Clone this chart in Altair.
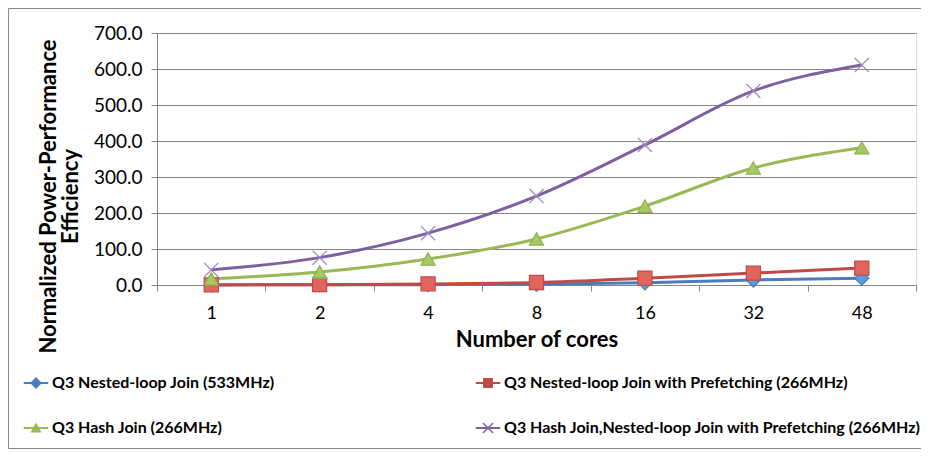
import altair as alt
import pandas as pd

cores = ["1", "2", "4", "8", "16", "32", "48"]
series_names = [
    "Q3 Nested-loop Join (533MHz)",
    "Q3 Nested-loop Join with Prefetching (266MHz)",
    "Q3 Hash Join (266MHz)",
    "Q3 Hash Join,Nested-loop Join with Prefetching (266MHz)",
]
nl_533 = [0.3, 0.5, 1.0, 2.0, 6.0, 14.0, 19.0]
nl_pref_266 = [0.5, 1.0, 3.0, 7.0, 19.0, 33.0, 47.0]
hash_266 = [17.0, 36.0, 72.0, 128.0, 219.0, 325.0, 381.0]
hash_nl_pref_266 = [42.0, 76.0, 144.0, 247.0, 389.0, 539.0, 611.0]
y_ticks = [0, 100, 200, 300, 400, 500, 600, 700]

line_colors = ["#4A7EBB", "#BE4B48", "#98B954", "#7D60A0"]
marker_fills = ["#5B9BE0", "#E2645F", "#A6CB62", "#9B87C0"]
marker_strokes = ["#4A7EBB", "#BE4B48", "#8FB050", "#9B87C0"]
plot_shapes = ["diamond", "square", "triangle-up", "M-1,-1L1,1M1,-1L-1,1"]
bar = "M-1.75,-0.14H1.75V0.14H-1.75Z "
legend_shapes = [
    bar + "M0,-0.85L0.85,0L0,0.85L-0.85,0Z",
    bar + "M-0.7,-0.7H0.7V0.7H-0.7Z",
    bar + "M0,-0.8L0.8,0.65H-0.8Z",
    bar + "M-0.8,-0.65L-0.65,-0.8L0.8,0.65L0.65,0.8Z M0.65,-0.8L0.8,-0.65L-0.65,0.8L-0.8,0.65Z",
]

rows = []
for name, vals in zip(series_names, [nl_533, nl_pref_266, hash_266, hash_nl_pref_266]):
    for c, v in zip(cores, vals):
        rows.append({"cores": c, "value": v, "series": name})
df = pd.DataFrame(rows)

FONT = "Lato"
W, H = 759, 252
PAD_L, PAD_T = 149, 25
SVG_W, SVG_H = 913, 441

x_enc = alt.X(
    "cores:O",
    sort=cores,
    scale=alt.Scale(type="band", paddingInner=0, paddingOuter=0),
    axis=alt.Axis(
        title="Number of cores",
        titleFontSize=22,
        titleFontWeight="bold",
        titleFont=FONT,
        titleColor="#000000",
        titlePadding=7,
        labelFontSize=18,
        labelFont=FONT,
        labelColor="#000000",
        labelAngle=0,
        labelPadding=13,
        tickBand="extent",
        tickSize=6,
        tickColor="#868686",
        domainColor="#868686",
        grid=False,
    ),
)
y_enc = alt.Y(
    "value:Q",
    scale=alt.Scale(domain=[0, 700], nice=False),
    axis=alt.Axis(
        title=["Normalized Power-Performance", "Efficiency"],
        titleFontSize=22,
        titleFontWeight="bold",
        titleFont=FONT,
        titleColor="#000000",
        titleLineHeight=22,
        titleAngle=270,
        titleAlign="center",
        titleBaseline="bottom",
        titleX=-97,
        titleY=163,
        labelFontSize=19,
        labelFont=FONT,
        labelColor="#000000",
        labelPadding=9,
        format=".1f",
        values=y_ticks,
        tickSize=6,
        tickColor="#868686",
        domainColor="#868686",
        gridColor="#868686",
        gridWidth=1,
    ),
)

lines = alt.Chart(df).mark_line(strokeWidth=3, interpolate="monotone").encode(
    x=x_enc,
    y=y_enc,
    color=alt.Color("series:N", scale=alt.Scale(domain=series_names, range=line_colors), legend=None),
    detail="series:N",
)

points = alt.Chart(df).mark_point(filled=True, size=200, strokeWidth=1.2, opacity=1).encode(
    x=x_enc,
    y=y_enc,
    color=alt.Color("series:N", scale=alt.Scale(domain=series_names, range=marker_fills), legend=None),
    stroke=alt.Stroke("series:N", scale=alt.Scale(domain=series_names, range=marker_strokes), legend=None),
    shape=alt.Shape("series:N", scale=alt.Scale(domain=series_names, range=plot_shapes), legend=None),
)

# legend order: row 1 = series 0, 1 ; row 2 = series 2, 3 (grid fills column by column)
order = [0, 2, 1, 3]
leg_domain = [series_names[i] for i in order]
leg_colors = [line_colors[i] for i in order]
leg_shapes = [legend_shapes[i] for i in order]

legend_layer = alt.Chart(df).mark_point(filled=True, size=196, opacity=1, strokeWidth=0).encode(
    x=x_enc,
    y=y_enc,
    color=alt.Color(
        "series:N",
        scale=alt.Scale(domain=leg_domain, range=leg_colors),
        legend=alt.Legend(
            title=None,
            orient="none",
            legendX=-129,
            legendY=342,
            columns=2,
            columnPadding=200,
            rowPadding=29,
            symbolSize=196,
            symbolStrokeWidth=0,
            symbolOpacity=1,
            labelOffset=8,
            labelFont=FONT,
            labelFontSize=16,
            labelFontWeight="bold",
            labelColor="#000000",
            labelLimit=500,
        ),
    ),
    shape=alt.Shape(
        "series:N",
        scale=alt.Scale(domain=leg_domain, range=leg_shapes),
        legend=alt.Legend(title=None, orient="none", legendX=-129, legendY=342, columns=2),
    ),
).transform_filter("false")

one = df[(df["cores"] == "1") & (df["series"] == series_names[0])]
F_TOP, F_BOT, F_LEFT, F_RIGHT = -24.5, 415.5, -148.5, 772
frame_left = alt.Chart(one).mark_rule(color="#868686", strokeWidth=1).encode(
    x=alt.value(F_LEFT), y=alt.value(F_TOP), y2=alt.value(F_BOT)
)
frame_top = alt.Chart(one).mark_rule(color="#868686", strokeWidth=1).encode(
    x=alt.value(F_LEFT), x2=alt.value(F_RIGHT), y=alt.value(F_TOP)
)
frame_bottom = alt.Chart(one).mark_rule(color="#868686", strokeWidth=1).encode(
    x=alt.value(F_LEFT), x2=alt.value(F_RIGHT), y=alt.value(F_BOT)
)

chart = alt.layer(frame_left, frame_top, frame_bottom, lines, points, legend_layer).resolve_scale(
    color="independent", shape="independent", stroke="independent"
).properties(
    width=W,
    height=H,
    autosize=alt.AutoSizeParams(type="none"),
    padding={"left": PAD_L, "top": PAD_T, "right": SVG_W - PAD_L - W, "bottom": SVG_H - PAD_T - H},
).configure_view(stroke=None).configure(background="#ffffff")

chart.save("out.html", embed_options={"renderer": "svg", "actions": False})
